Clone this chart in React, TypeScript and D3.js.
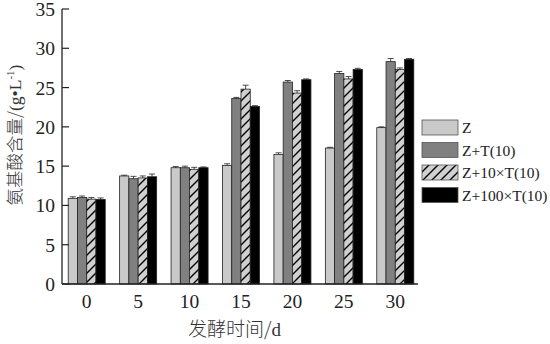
import React from "react";
import * as d3 from "d3";

const categories = ["0", "5", "10", "15", "20", "25", "30"];
const seriesNames = ["Z", "Z+T(10)", "Z+10×T(10)", "Z+100×T(10)"];
const zValues = [10.9, 13.75, 14.8, 15.1, 16.5, 17.3, 19.9];
const ztValues = [11.0, 13.4, 14.8, 23.6, 25.7, 26.8, 28.3];
const z10tValues = [10.8, 13.5, 14.6, 24.8, 24.3, 26.1, 27.3];
const z100tValues = [10.75, 13.65, 14.8, 22.6, 26.0, 27.3, 28.6];
const zErr = [0.2, 0.1, 0.15, 0.2, 0.2, 0.1, 0.1];
const ztErr = [0.2, 0.3, 0.2, 0.15, 0.2, 0.25, 0.4];
const z10tErr = [0.2, 0.25, 0.25, 0.5, 0.3, 0.3, 0.2];
const z100tErr = [0.2, 0.35, 0.1, 0.1, 0.1, 0.15, 0.1];
const yTicks = [0, 5, 10, 15, 20, 25, 30, 35];

const values = [zValues, ztValues, z10tValues, z100tValues];
const errs = [zErr, ztErr, z10tErr, z100tErr];
const fills = ["#c9c9c9", "#808080", "url(#hatch)", "#000000"];

export default function App() {
  const W = 550, H = 344;
  const y = d3.scaleLinear().domain([0, 35]).range([284, 9]);
  const x0 = d3.scaleBand<string>().domain(categories).range([61, 421]).padding(0);
  const gw = x0.bandwidth() * 0.72;
  const x1 = d3.scaleBand<number>().domain([0, 1, 2, 3]).range([0, gw]).padding(0);
  const serif = "'Liberation Serif', 'Times New Roman', serif";
  const cjk = "'Noto Sans CJK SC', sans-serif";
  return (
    <svg width={W} height={H} style={{ position: "absolute", left: 0, top: 0, background: "#fff" }}>
      <defs>
        <pattern id="hatch" patternUnits="userSpaceOnUse" width="9" height="9">
          <rect width="9" height="9" fill="#d0d0d0" />
          <path d="M-2,11 L11,-2 M-2,2 L2,-2 M7,11 L11,7" stroke="#000" strokeWidth="1.4" />
        </pattern>
      </defs>
      {categories.map((c, i) => {
        const gx = (x0(c) as number) + (x0.bandwidth() - gw) / 2;
        return (
          <g key={c}>
            {values.map((vals, s) => {
              const bx = gx + (x1(s) as number);
              const bw = x1.bandwidth();
              const v = vals[i];
              const e = errs[s][i];
              const cx = bx + bw / 2;
              return (
                <g key={s}>
                  <rect x={bx} y={y(v)} width={bw} height={y(0) - y(v)} fill={fills[s]} stroke="#222" strokeWidth={0.8} />
                  <line x1={cx} x2={cx} y1={y(v + e)} y2={y(v)} stroke="#222" strokeWidth={0.8} />
                  <line x1={cx - 3} x2={cx + 3} y1={y(v + e)} y2={y(v + e)} stroke="#222" strokeWidth={0.8} />
                </g>
              );
            })}
            <text x={(x0(c) as number) + x0.bandwidth() / 2} y={308} textAnchor="middle" fontFamily={serif} fontSize={19.5} fill="#222">{c}</text>
          </g>
        );
      })}
      <line x1={62} x2={62} y1={y(35)} y2={y(0)} stroke="#222" strokeWidth={1.3} />
      <line x1={62} x2={418} y1={y(0)} y2={y(0)} stroke="#222" strokeWidth={1.3} />
      {yTicks.map((t) => (
        <g key={t}>
          <line x1={62} x2={69} y1={y(t)} y2={y(t)} stroke="#222" strokeWidth={1.2} />
          <text x={55} y={y(t) + 7} textAnchor="end" fontFamily={serif} fontSize={19.5} fill="#222">{t}</text>
        </g>
      ))}
      <text transform={`translate(21,135) rotate(-90)`} textAnchor="middle" fontSize={17.5} fill="#333">
        <tspan fontFamily={cjk} fontWeight={300}>氨基酸含量/</tspan>
        <tspan fontFamily={serif}>(g•L</tspan>
        <tspan fontFamily={serif} fontSize={11} dy={-7}>-1</tspan>
        <tspan fontFamily={serif} dy={7}>)</tspan>
      </text>
      <text x={188} y={336} fontSize={19} fill="#333">
        <tspan fontFamily={cjk} fontWeight={300}>发酵时间/</tspan>
        <tspan fontFamily={serif}>d</tspan>
      </text>
      {seriesNames.map((n, s) => {
        const ly = 120 + s * 22.5;
        return (
          <g key={n}>
            <rect x={422} y={ly} width={36} height={15} fill={fills[s]} stroke="#555" strokeWidth={0.8} />
            <text x={462} y={ly + 13} fontFamily={serif} fontSize={15.5} fill="#222">{n}</text>
          </g>
        );
      })}
    </svg>
  );
}
